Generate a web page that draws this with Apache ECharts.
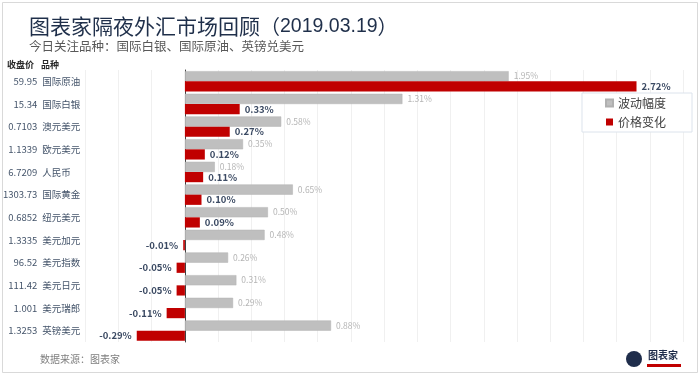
<!DOCTYPE html>
<html>
<head>
<meta charset="utf-8">
<script src="https://cdn.jsdelivr.net/npm/echarts@6/dist/echarts.min.js"></script>
<style>
  html, body { margin: 0; padding: 0; background: #fff; }
  #chart { width: 700px; height: 375px; }
</style>
</head>
<body>
<div id="chart"></div>
<script>
const names = ['国际原油', '国际白银', '澳元美元', '欧元美元', '人民币', '国际黄金', '纽元美元', '美元加元', '美元指数', '美元日元', '美元瑞郎', '英镑美元']
const prices = ['59.95', '15.34', '0.7103', '1.1339', '6.7209', '1303.73', '0.6852', '1.3335', '96.52', '111.42', '1.001', '1.3253']
const swing = [1.95, 1.31, 0.58, 0.35, 0.18, 0.65, 0.50, 0.48, 0.26, 0.31, 0.29, 0.88]
const change = [2.72, 0.33, 0.27, 0.12, 0.11, 0.10, 0.09, -0.01, -0.05, -0.05, -0.11, -0.29]

const FONT = '"Noto Sans CJK SC", "Noto Sans", sans-serif'
const TITLE_COLOR = '#1F2F4A'

const chart = echarts.init(document.getElementById('chart'))

// left side label columns (price right aligned, name left aligned)
function labelAxis(data, margin, align) {
  return {
    type: 'category',
    inverse: true,
    position: 'left',
    offset: 0,
    data: data,
    axisLine: { show: false, onZero: false },
    axisTick: { show: false },
    axisLabel: { margin: margin, align: align, fontSize: 9.5, color: '#44546A', fontFamily: FONT }
  }
}

const option = {
  backgroundColor: '#fff',
  textStyle: { fontFamily: FONT },
  animation: false,
  title: {
    text: '{a|图表家隔夜外汇市场回顾}{b|（}{c|2019.03.19}{b|）}',
    subtext: '今日关注品种：国际白银、国际原油、英镑兑美元',
    left: 24,
    top: 11,
    itemGap: 3,
    textStyle: {
      fontFamily: FONT, fontSize: 21, fontWeight: 'normal', color: TITLE_COLOR,
      rich: {
        a: { fontFamily: FONT, fontSize: 21, color: TITLE_COLOR },
        b: { fontFamily: FONT, fontSize: 20, color: TITLE_COLOR },
        c: { fontFamily: '"Liberation Sans", sans-serif', fontSize: 19.5, color: TITLE_COLOR }
      }
    },
    subtextStyle: { fontFamily: FONT, fontSize: 12.5, color: '#595959' }
  },
  legend: {
    orient: 'vertical',
    right: 8,
    top: 93,
    data: ['波动幅度', '价格变化'],
    icon: 'rect',
    itemWidth: 7,
    itemHeight: 7,
    itemGap: 7,
    padding: [4, 26, 4, 23],
    borderColor: '#DCE3EC',
    borderWidth: 1,
    backgroundColor: '#fff',
    textStyle: { fontFamily: FONT, fontSize: 12, color: '#404040' }
  },
  grid: { left: 84, right: 17, top: 70, bottom: 33 },
  xAxis: {
    type: 'value',
    min: -0.6,
    max: 3.0,
    interval: 0.2,
    axisLabel: { show: false },
    axisLine: { show: false },
    axisTick: { show: false },
    splitLine: { show: true, lineStyle: { color: '#F0F0F0' } }
  },
  yAxis: [
    {
      type: 'category',
      inverse: true,
      data: names,
      axisLine: { show: true, onZero: true, lineStyle: { color: '#404040', width: 1 } },
      axisTick: { show: false },
      axisLabel: { show: false }
    },
    labelAxis(prices, 48, 'right'),
    labelAxis(names, 43, 'left')
  ],
  series: [
    {
      name: '波动幅度',
      type: 'bar',
      yAxisIndex: 0,
      barGap: '0%',
      barCategoryGap: '10%',
      itemStyle: { color: '#BFBFBF', borderColor: '#B0B0B0', borderWidth: 0.5 },
      label: {
        show: true,
        position: 'right',
        distance: 5,
        fontSize: 8.5,
        color: '#B5B5B5',
        formatter: p => p.value.toFixed(2) + '%'
      },
      data: swing
    },
    {
      name: '价格变化',
      type: 'bar',
      yAxisIndex: 0,
      barGap: '0%',
      barCategoryGap: '10%',
      itemStyle: { color: '#C00000' },
      label: {
        show: true,
        distance: 5,
        fontSize: 9.5,
        fontWeight: 'bold',
        color: '#3B4A63',
        formatter: p => p.value.toFixed(2) + '%'
      },
      data: change.map(v => ({ value: v, label: { position: v < 0 ? 'left' : 'right' } }))
    }
  ],
  graphic: [
    {
      type: 'rect',
      shape: { x: 2.5, y: 2.5, width: 695, height: 370 },
      style: { fill: 'none', stroke: '#D9D9D9', lineWidth: 1 },
      silent: true
    },
    {
      type: 'text',
      x: 7,
      y: 65,
      style: { text: '收盘价', font: 'bold 9px ' + FONT, fill: '#262626', verticalAlign: 'middle' }
    },
    {
      type: 'text',
      x: 41,
      y: 65,
      style: { text: '品种', font: 'bold 9px ' + FONT, fill: '#262626', verticalAlign: 'middle' }
    },
    {
      type: 'text',
      left: 40,
      top: 354,
      style: { text: '数据来源：图表家', font: '10px ' + FONT, fill: '#7F7F7F' }
    },
    {
      type: 'circle',
      shape: { cx: 634, cy: 359, r: 8 },
      style: { fill: '#1F2D4B' }
    },
    {
      type: 'text',
      left: 648,
      top: 350,
      style: { text: '图表家', font: 'bold 10px ' + FONT, fill: '#1F2D4B' }
    },
    {
      type: 'rect',
      shape: { x: 647, y: 364, width: 34, height: 3 },
      style: { fill: '#C00000' }
    }
  ]
}

chart.setOption(option)
</script>
</body>
</html>
